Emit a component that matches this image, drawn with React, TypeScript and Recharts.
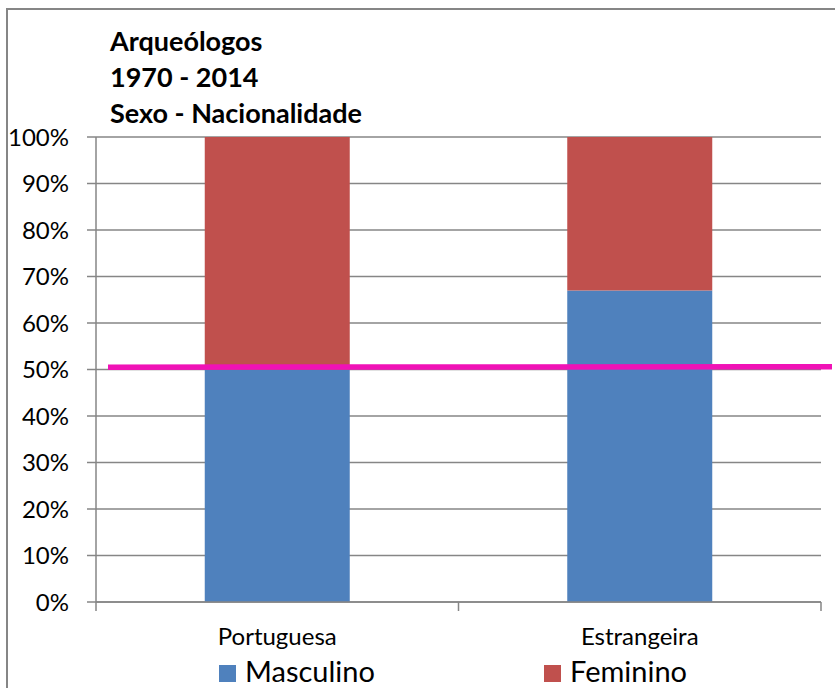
import { BarChart, Bar, XAxis, YAxis, CartesianGrid, Legend, ReferenceLine } from 'recharts';

// categories and series (percent of archaeologists)
const categories = ['Portuguesa', 'Estrangeira'];
const seriesNames = ['Masculino', 'Feminino'];
const masculino = [50, 67];
const feminino = [50, 33];
const yTicks = [0, 10, 20, 30, 40, 50, 60, 70, 80, 90, 100];
const titleLines = ['Arqueólogos', '1970 - 2014', 'Sexo - Nacionalidade'];
const marker = 50.6; // hand drawn pink line

const data = categories.map((name, i) => ({
  name,
  Masculino: masculino[i],
  Feminino: feminino[i],
}));

const FONT = 'Lato, "Open Sans", sans-serif';
const GRID = '#868686';

function XTick(props: any) {
  const { x, y, payload, index, width, visibleTicksCount } = props;
  const half = width / (visibleTicksCount || categories.length) / 2;
  return (
    <g>
      {index === 0 && <line x1={x - half} x2={x - half} y1={y - 9} y2={y} stroke={GRID} strokeWidth={1.5} />}
      <line x1={x + half} x2={x + half} y1={y - 9} y2={y} stroke={GRID} strokeWidth={1.5} />
      <text x={x} y={y + 34} textAnchor="middle" fontSize={24} fontFamily={FONT} fill="#000">
        {payload.value}
      </text>
    </g>
  );
}

function LegendBox(props: any) {
  const lefts = [219, 544];
  const items = seriesNames
    .map((n) => (props.payload || []).find((p: any) => p.value === n))
    .filter(Boolean);
  return (
    <svg width={835} height={34} style={{ display: 'block' }}>
      {items.map((p: any, i: number) => (
        <g key={p.value}>
          <rect x={lefts[i]} y={11} width={17} height={17} fill={p.color} />
          <text x={lefts[i] + 26} y={28} fontSize={29} fontFamily={FONT} fill="#000">
            {p.value}
          </text>
        </g>
      ))}
    </svg>
  );
}

export default function App() {
  return (
    <div style={{ position: 'absolute', left: 0, top: 0, width: 835, height: 688, background: '#fff', overflow: 'hidden' }}>
      <BarChart
        width={835}
        height={688}
        data={data}
        margin={{ top: 137, right: 14, left: 6, bottom: 0 }}
        barCategoryGap="30%"
      >
        <CartesianGrid vertical={false} stroke={GRID} strokeWidth={1.5} />
        <XAxis
          dataKey="name"
          height={52}
          tickLine={false}
          tickSize={9}
          tickMargin={0}
          axisLine={{ stroke: GRID, strokeWidth: 1.5 }}
          tick={<XTick />}
          interval={0}
        />
        <YAxis
          width={90}
          domain={[0, 100]}
          ticks={yTicks}
          tickFormatter={(v) => `${v}%`}
          tickSize={9}
          tickMargin={18}
          tickLine={{ stroke: GRID, strokeWidth: 1.5 }}
          axisLine={{ stroke: GRID, strokeWidth: 1.5 }}
          tick={{ fill: '#000', fontSize: 24, fontFamily: FONT }}
        />
        <Legend verticalAlign="bottom" height={34} wrapperStyle={{ left: 0, bottom: 0, width: 835 }} content={<LegendBox />} />
        <Bar dataKey="Masculino" stackId="a" fill="#4f81bd" isAnimationActive={false} />
        <Bar dataKey="Feminino" stackId="a" fill="#c0504d" isAnimationActive={false} />
        <ReferenceLine
          y={marker}
          ifOverflow="visible"
          shape={(p: any) => (
            <line x1={p.x1 + 12} x2={p.x2 + 11} y1={p.y1 + 0.5} y2={p.y2} stroke="#f012b6" strokeWidth={5.5} />
          )}
        />
      </BarChart>
      <svg width={835} height={688} style={{ position: 'absolute', left: 0, top: 0, pointerEvents: 'none' }}>
        <rect x={7} y={9} width={840} height={700} fill="none" stroke={GRID} strokeWidth={2} />
        {titleLines.map((t, i) => (
          <text key={t} x={110} y={51 + i * 36} fontSize={27} fontWeight="bold" fontFamily={FONT} fill="#000">
            {t}
          </text>
        ))}
      </svg>
    </div>
  );
}
